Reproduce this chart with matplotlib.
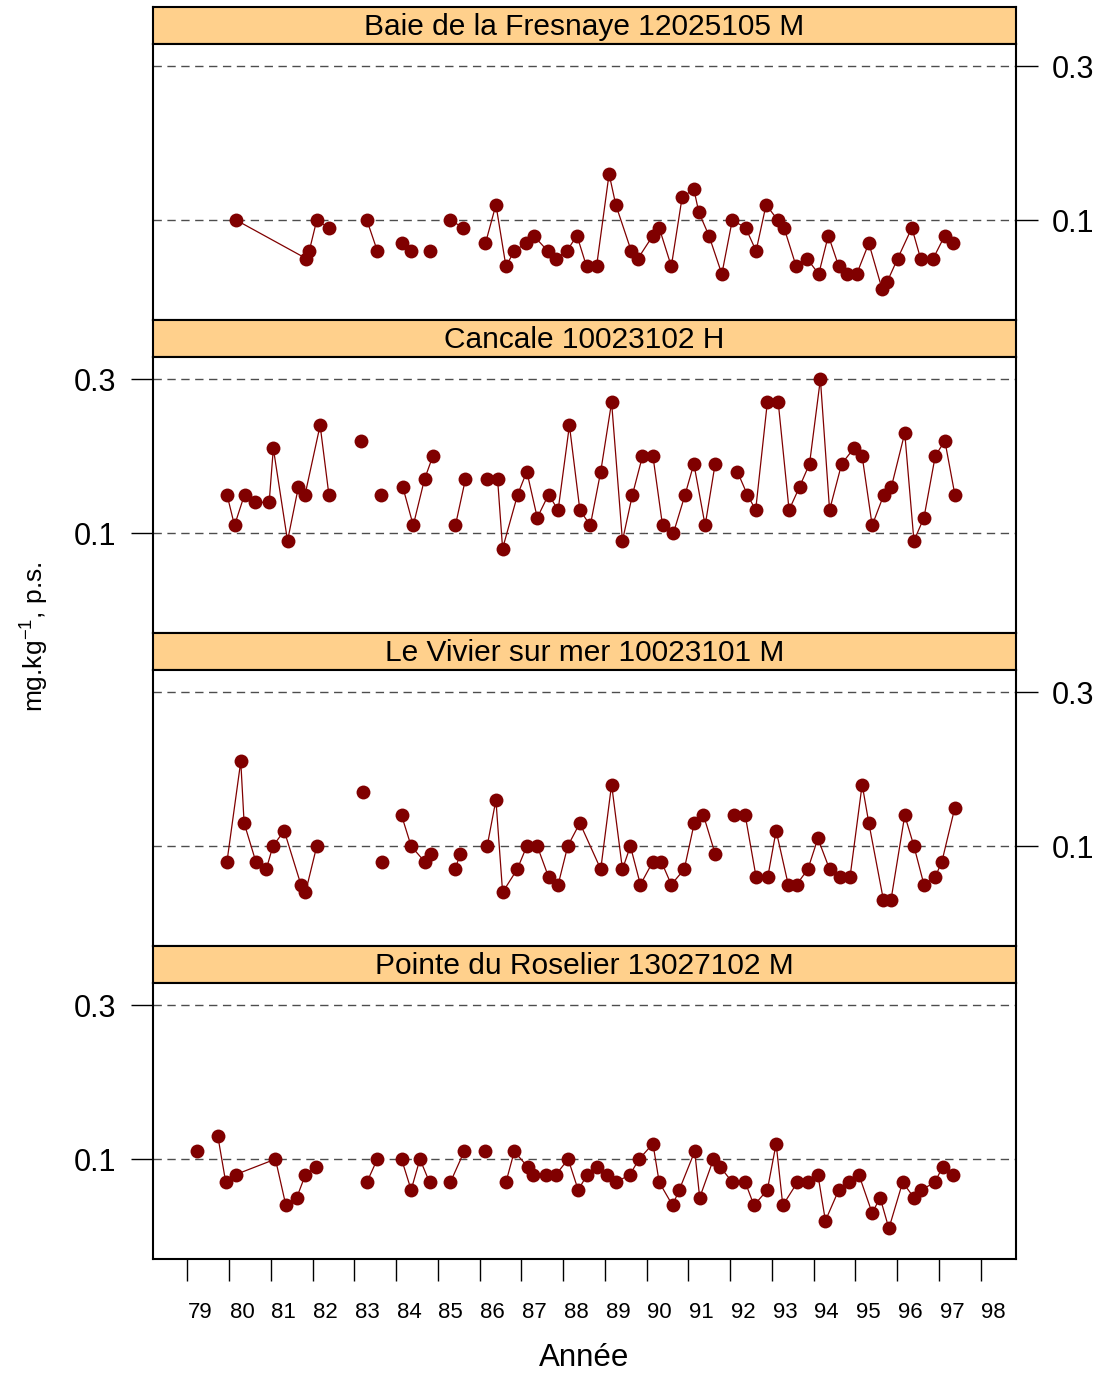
import numpy as np
import matplotlib
matplotlib.use("Agg")
import matplotlib.pyplot as plt
import matplotlib.transforms as mtransforms

plt.rcParams['font.family'] = ['Liberation Sans', 'DejaVu Sans']
plt.rcParams['mathtext.default'] = 'regular'

# ---------------- data (decimal year -> mg/kg dry weight); None = break in series
sites = ["Baie de la Fresnaye 12025105 M", "Cancale 10023102 H",
         "Le Vivier sur mer 10023101 M", "Pointe du Roselier 13027102 M"]

fres_year = [80.17, 81.85, 81.92, 82.10, 82.39, None, 83.30, 83.55, None, 84.13, 84.36, None,
             84.80, None, 85.30, 85.61, None, 86.14, 86.39, 86.63, 86.83, 87.11, 87.29, 87.63,
             87.83, 88.09, 88.33, 88.56, 88.80, 89.10, 89.26, 89.63, 89.79, 90.15, 90.30, 90.59,
             90.85, 91.13, 91.25, 91.49, 91.80, 92.05, 92.37, 92.62, 92.86, 93.14, 93.29, 93.58,
             93.84, 94.12, 94.35, 94.60, 94.79, 95.03, 95.32, 95.64, 95.76, 96.01, 96.35, 96.56,
             96.86, 97.14, 97.34]
fres_val = [0.10, 0.05, 0.06, 0.10, 0.09, None, 0.10, 0.06, None, 0.07, 0.06, None,
            0.06, None, 0.10, 0.09, None, 0.07, 0.12, 0.04, 0.06, 0.07, 0.08, 0.06,
            0.05, 0.06, 0.08, 0.04, 0.04, 0.16, 0.12, 0.06, 0.05, 0.08, 0.09, 0.04,
            0.13, 0.14, 0.11, 0.08, 0.03, 0.10, 0.09, 0.06, 0.12, 0.10, 0.09, 0.04,
            0.05, 0.03, 0.08, 0.04, 0.03, 0.03, 0.07, 0.01, 0.02, 0.05, 0.09, 0.05,
            0.05, 0.08, 0.07]

can_year = [79.95, 80.13, 80.37, 80.63, 80.96, 81.06, 81.40, 81.66, 81.82, 82.18, 82.39, None,
            83.16, None, 83.64, None, 84.16, 84.41, 84.68, 84.88, None, 85.42, 85.66, None,
            86.17, 86.43, 86.55, 86.91, 87.13, 87.38, 87.65, 87.88, 88.15, 88.40, 88.65, 88.90,
            89.16, 89.42, 89.66, 89.90, 90.15, 90.38, 90.64, 90.92, 91.13, 91.40, 91.64, None,
            92.17, 92.41, 92.61, 92.89, 93.15, 93.41, 93.66, 93.90, 94.16, 94.38, 94.67, 94.96,
            95.16, 95.40, 95.68, 95.86, 96.18, 96.40, 96.64, 96.91, 97.14, 97.38]
can_val = [0.15, 0.11, 0.15, 0.14, 0.14, 0.21, 0.09, 0.16, 0.15, 0.24, 0.15, None,
           0.22, None, 0.15, None, 0.16, 0.11, 0.17, 0.20, None, 0.11, 0.17, None,
           0.17, 0.17, 0.08, 0.15, 0.18, 0.12, 0.15, 0.13, 0.24, 0.13, 0.11, 0.18,
           0.27, 0.09, 0.15, 0.20, 0.20, 0.11, 0.10, 0.15, 0.19, 0.11, 0.19, None,
           0.18, 0.15, 0.13, 0.27, 0.27, 0.13, 0.16, 0.19, 0.30, 0.13, 0.19, 0.21,
           0.20, 0.11, 0.15, 0.16, 0.23, 0.09, 0.12, 0.20, 0.22, 0.15]

viv_year = [79.95, 80.28, 80.36, 80.64, 80.89, 81.05, 81.32, 81.72, 81.83, 82.10, None,
            83.20, None, 83.66, None, 84.13, 84.36, 84.68, 84.84, None, 85.41, 85.54, None,
            86.18, 86.39, 86.55, 86.90, 87.13, 87.38, 87.65, 87.88, 88.11, 88.40, 88.90, 89.16,
            89.42, 89.61, 89.85, 90.15, 90.35, 90.59, 90.90, 91.14, 91.36, 91.64, None,
            92.08, 92.36, 92.62, 92.90, 93.10, 93.39, 93.59, 93.86, 94.10, 94.38, 94.63, 94.87,
            95.16, 95.32, 95.67, 95.85, 96.18, 96.40, 96.64, 96.91, 97.07, 97.38]
viv_val = [0.08, 0.21, 0.13, 0.08, 0.07, 0.10, 0.12, 0.05, 0.04, 0.10, None,
           0.17, None, 0.08, None, 0.14, 0.10, 0.08, 0.09, None, 0.07, 0.09, None,
           0.10, 0.16, 0.04, 0.07, 0.10, 0.10, 0.06, 0.05, 0.10, 0.13, 0.07, 0.18,
           0.07, 0.10, 0.05, 0.08, 0.08, 0.05, 0.07, 0.13, 0.14, 0.09, None,
           0.14, 0.14, 0.06, 0.06, 0.12, 0.05, 0.05, 0.07, 0.11, 0.07, 0.06, 0.06,
           0.18, 0.13, 0.03, 0.03, 0.14, 0.10, 0.05, 0.06, 0.08, 0.15]

ros_year = [79.22, None, 79.73, 79.92, 80.16, 81.11, 81.36, 81.62, 81.83, 82.09, None,
            83.30, 83.55, None, 84.13, 84.36, 84.57, 84.80, None, 85.30, 85.63, None,
            86.14, None, 86.63, 86.83, 87.15, 87.28, 87.59, 87.83, 88.12, 88.36, 88.58, 88.80,
            89.05, 89.27, 89.60, 89.82, 90.15, 90.30, 90.62, 90.78, 91.15, 91.27, 91.60, 91.76,
            92.05, 92.36, 92.57, 92.89, 93.10, 93.26, 93.61, 93.87, 94.10, 94.28, 94.60, 94.84,
            95.08, 95.40, 95.59, 95.80, 96.13, 96.40, 96.58, 96.90, 97.09, 97.34]
ros_val = [0.11, None, 0.13, 0.07, 0.08, 0.10, 0.04, 0.05, 0.08, 0.09, None,
           0.07, 0.10, None, 0.10, 0.06, 0.10, 0.07, None, 0.07, 0.11, None,
           0.11, None, 0.07, 0.11, 0.09, 0.08, 0.08, 0.08, 0.10, 0.06, 0.08, 0.09,
           0.08, 0.07, 0.08, 0.10, 0.12, 0.07, 0.04, 0.06, 0.11, 0.05, 0.10, 0.09,
           0.07, 0.07, 0.04, 0.06, 0.12, 0.04, 0.07, 0.07, 0.08, 0.02, 0.06, 0.07,
           0.08, 0.03, 0.05, 0.01, 0.07, 0.05, 0.06, 0.07, 0.09, 0.08]

years_axis = list(range(79, 99))
year_labels = [str(y) for y in years_axis]
ref_levels = [0.1, 0.3]
ytick_labels = ["0.1", "0.3"]

series = [(fres_year, fres_val), (can_year, can_val), (viv_year, viv_val), (ros_year, ros_val)]

# ---------------- layout
W, H = 1114, 1376
fig = plt.figure(figsize=(W / 100, H / 100), dpi=100)
left_px, width_px = 152.7, 863.0
strip_h, panel_h = 37.0, 276.0
tops = [7.0, 320.0, 633.0, 946.0]

strip_color = '#FFD08C'
pt_color = '#800000'
XLIM = (78.171, 98.837)
YLIM = (-0.0297, 0.3287)

axes = []
for i, (site, (yrs, vals)) in enumerate(zip(sites, series)):
    top = tops[i]
    sax = fig.add_axes([left_px / W, 1 - (top + strip_h) / H, width_px / W, strip_h / H])
    sax.set_facecolor(strip_color)
    sax.set_xticks([]); sax.set_yticks([])
    for sp in sax.spines.values():
        sp.set_linewidth(1.5)
    sax.text(0.5, 0.45, site, ha='center', va='center', fontsize=21.5,
             transform=sax.transAxes)

    ax = fig.add_axes([left_px / W, 1 - (top + strip_h + panel_h) / H, width_px / W, panel_h / H])
    for sp in ax.spines.values():
        sp.set_linewidth(1.5)
    x = np.array(yrs, dtype=float)
    y = np.array(vals, dtype=float)
    for lv in ref_levels:
        ax.axhline(lv, color='#4d4d4d', lw=1.0, dashes=(6, 4), zorder=1)
    ax.plot(x, y, '-', color=pt_color, lw=0.9, zorder=2)
    ax.plot(x, y, 'o', color=pt_color, ms=10, mec='none', zorder=3)
    ax.set_xlim(*XLIM)
    ax.set_ylim(*YLIM)
    ax.set_yticks(ref_levels)
    ax.set_yticklabels(ytick_labels)
    if i % 2 == 0:
        ax.yaxis.tick_right()
    else:
        ax.yaxis.tick_left()
    ax.tick_params(axis='y', direction='out', length=16, width=1, labelsize=22, pad=10)
    if i == 3:
        ax.set_xticks(years_axis)
        ax.set_xticklabels([])
        ax.tick_params(axis='x', direction='out', length=15.5, width=1)
        trans = mtransforms.blended_transform_factory(ax.transData, fig.transFigure)
        for yr, lab in zip(years_axis, year_labels):
            fig.text(yr + 0.31, 1 - 1312 / H, lab, transform=trans, ha='center', va='center',
                     fontsize=16)
    else:
        ax.set_xticks([])
    axes.append(ax)

fig.text((left_px + width_px / 2) / W, 1 - 1358 / H, "Année", ha='center', va='center', fontsize=22.5)
fig.text(35 / W, 1 - 637 / H, r"mg.kg$^{-1}$, p.s.", rotation=90, ha='center', va='center', fontsize=19)

fig.savefig("out.png", dpi=100)
